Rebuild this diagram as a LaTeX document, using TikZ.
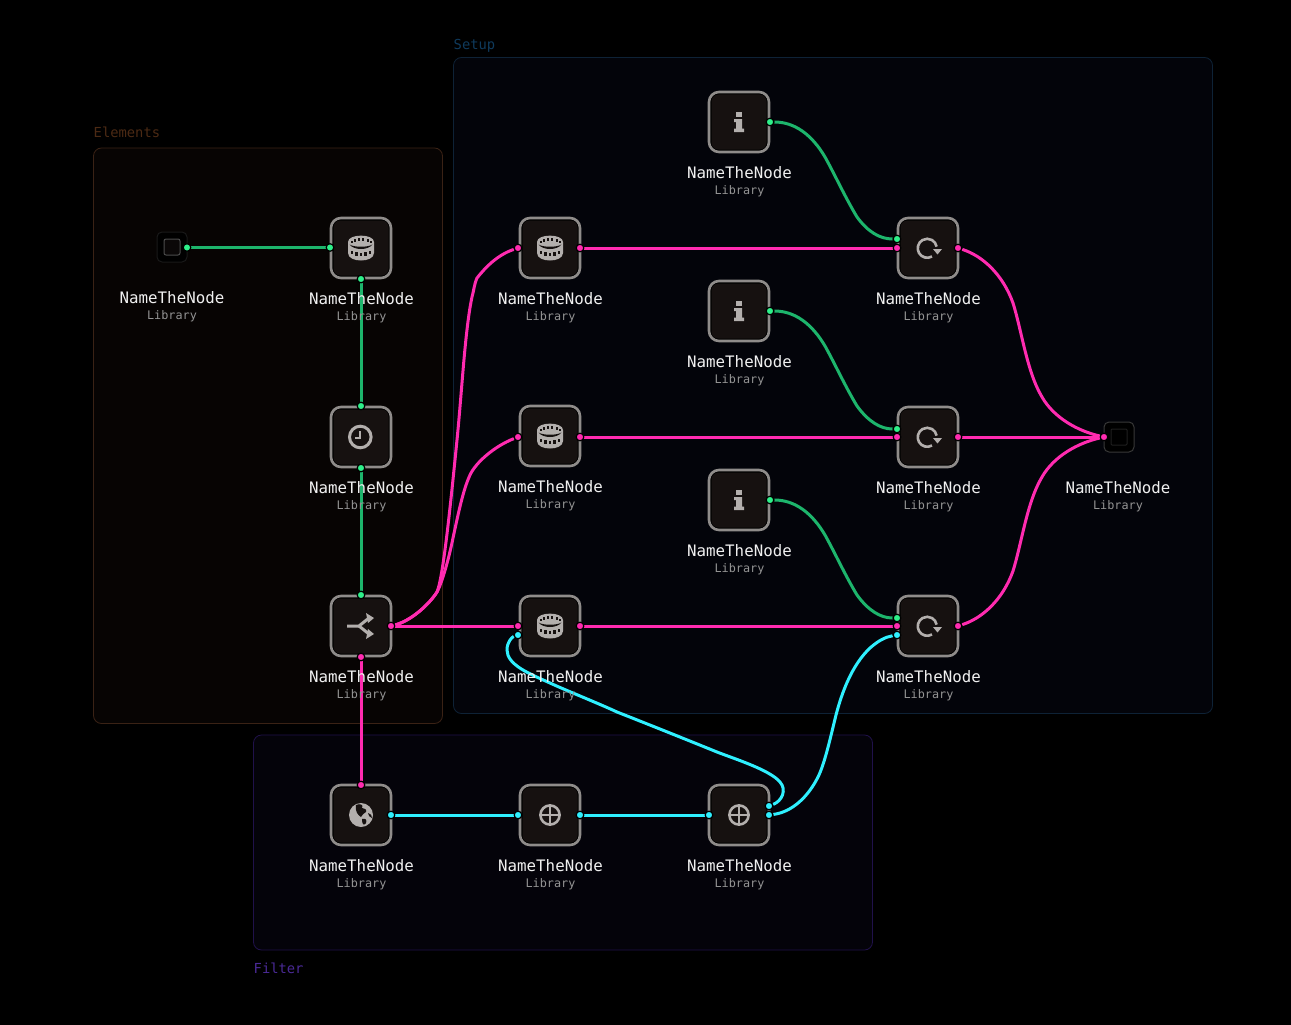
\documentclass[tikz,border=0pt]{standalone}
\usepackage{fontspec}
\setmainfont{DejaVu Sans Mono}
\definecolor{lgreen}{HTML}{1DB56C}\definecolor{pgreen}{HTML}{2EF08A}
\definecolor{lpink}{HTML}{FF2BB0}\definecolor{lcyan}{HTML}{2FF0FF}
\definecolor{icongray}{HTML}{B3AFAD}\definecolor{boxfill}{HTML}{161110}
\definecolor{elbd}{HTML}{3A2215}\definecolor{elfill}{HTML}{070403}\definecolor{eltext}{HTML}{4C2A14}
\definecolor{sebd}{HTML}{0E2236}\definecolor{sefill}{HTML}{03040A}\definecolor{setext}{HTML}{0F3A5C}
\definecolor{fibd}{HTML}{20114A}\definecolor{fifill}{HTML}{04030A}\definecolor{fitext}{HTML}{4A2A96}
\pgfdeclarelayer{grp}\pgfdeclarelayer{conn}\pgfsetlayers{grp,conn,main}
\tikzset{
 x=1pt,y=-1pt,
 group/.style={draw=#1,line width=0.8pt,rounded corners=8pt},
 grouplabel/.style={font=\fontsize{13.8}{14}\selectfont,text=#1,anchor=west,inner sep=0pt},
 box/.style={draw=icongray!80!black,fill=black,line width=2.6pt,rounded corners=10pt,minimum size=60pt,inner sep=0pt},
 boxin/.style={fill=boxfill,rounded corners=7pt,minimum size=55pt,inner sep=0pt},
 namelabel/.style={font=\fontsize{15.8}{16}\selectfont,text=white!94!black,inner sep=0pt},
 liblabel/.style={font=\fontsize{11.8}{12}\selectfont,text=white!58!black,inner sep=0pt},
 port/.style={circle,draw=black,line width=1.2pt,minimum size=7.6pt,inner sep=0pt,fill=#1},
 gport/.style={port=pgreen},pport/.style={port=lpink},cport/.style={port=lcyan},
 gline/.style={draw=lgreen,line width=3pt},
 pline/.style={draw=lpink,line width=3pt},
 cline/.style={draw=lcyan,line width=3pt},
 clock/.pic={\draw[icongray,line width=3pt] (-0.7,0) circle (10.8pt);
   \draw[icongray,line width=2.2pt] (-0.7,-6)--(-0.7,1)--(-6,1);},
 merge/.pic={\draw[icongray,line width=3pt,line join=round] (-14,0)--(-2,0)--(8,-8);
   \draw[icongray,line width=3pt,line join=round] (-2,0)--(8,8);
   \fill[icongray] (5,-13)--(13,-8)--(7,-3)--cycle;
   \fill[icongray] (5,13)--(13,8)--(7,3)--cycle;},
 plus/.pic={\draw[icongray,line width=2.6pt] (0,0) circle (9.6pt);
   \draw[icongray,line width=2.4pt] (-9.6,0)--(9.6,0) (0,-9.6)--(0,9.6);},
 reload/.pic={\draw[icongray,line width=2.6pt] (4,8.5) arc[start angle=-60,end angle=-350,radius=9.5pt];
   \fill[icongray] (5,1)--(14,1)--(9.5,6.5)--cycle;},
 info/.pic={\fill[icongray] (-3,-10) rectangle (3,-5);
   \fill[icongray] (-5,-3)--(3,-3)--(3,6.5)--(5,6.5)--(5,10)--(-5,10)--(-5,6.5)--(-3,6.5)--(-3,0)--(-5,0)--cycle;},
 globe/.pic={\fill[icongray] (0,0) circle (12pt);
   \fill[boxfill] (-5,-10)..controls (-1,-12) and (3,-10)..(1,-7)..controls (4,-6) and (6,-6)..(5,-3)..controls (3,-1) and (1,-1)..(0,2)..controls (-3,0) and (-6,-3)..(-5,-10)--cycle;
   \fill[boxfill] (1,4)..controls (5,3) and (6,5)..(5,8)..controls (3,11) and (1,10)..(1,4)--cycle;
   \fill[boxfill] (7,-2)..controls (10,-2) and (11,1)..(11,3)..controls (9,2) and (7,1)..(7,-2)--cycle;},
 colosseum/.pic={
   \fill[icongray] (-13,-6)..controls (-13,-14.5) and (13,-14.5)..(13,-6)--(13,5)..controls (13,15) and (-13,15)..(-13,5)--cycle;
   \fill[boxfill] (-11.5,-3.5)..controls (-7,2.5) and (7,2.5)..(11.5,-3.5)..controls (7,-0.5) and (-7,-0.5)..(-11.5,-3.5)--cycle;
   \foreach \wx/\wy in {-9.5/-6,-6.5/-7.6,-2.4/-8.4,2.4/-8.4,6.5/-7.6,9.5/-6}{\fill[boxfill] (\wx-1,\wy-1.3) rectangle (\wx+1,\wy+1.3);}
   \foreach \wx/\wy in {-9/4,-4.5/5.6,0/6.2,4.5/5.6,9/4}{\fill[boxfill] (\wx-1.1,\wy-1.5) rectangle (\wx+1.1,\wy+2.2);}
 },
}
\newcommand{\nodeblock}[4]{%
 \node[box] (#1) at (#2,#3) {};
 \node[boxin] (#1-in) at (#2,#3) {};
 \pic at (#2,#3) {#4};
 \node[namelabel,yshift=-51pt,xshift=0.5pt] (#1-name) at (#1.center) {NameTheNode};
 \node[liblabel,yshift=-69pt,xshift=0.5pt] (#1-lib) at (#1.center) {Library};
}
\begin{document}
\begin{tikzpicture}
\useasboundingbox (0,0) rectangle (1291,1025);
\begin{pgfonlayer}{grp}
 \fill[black] (0,0) rectangle (1291,1025);
 \draw[group=elbd,fill=elfill] (93.5,148) rectangle (442.5,723.5);
 \draw[group=sebd,fill=sefill] (453.5,57.5) rectangle (1212.5,713.5);
 \draw[group=fibd,fill=fifill] (253.5,735) rectangle (872.5,950);
\end{pgfonlayer}
\node[grouplabel=eltext] (gEl) at (93.5,132.5) {Elements};
\node[grouplabel=setext] (gSe) at (453.5,45.5) {Setup};
\node[grouplabel=fitext] (gFi) at (253.5,968) {Filter};
% source and sink
\node[draw=white!10!black,fill=black!100,rounded corners=5pt,line width=1pt,minimum size=30pt,inner sep=0pt] (src) at (172,247) {};
\node[draw=white!30!black,fill=boxfill!50!black,rounded corners=2pt,line width=1pt,minimum size=16pt,inner sep=0pt] (srcin) at (172,247) {};
\node[namelabel] (src-name) at (172,298) {NameTheNode};
\node[liblabel] (src-lib) at (172,316) {Library};
\node[draw=white!22!black,fill=black,rounded corners=5pt,line width=1pt,minimum size=30pt,inner sep=0pt] (snk) at (1119,437) {};
\node[draw=white!12!black,fill=black,rounded corners=1pt,line width=1pt,minimum size=16pt,inner sep=0pt] (snkin) at (1119,437) {};
\node[namelabel] (snk-name) at (1118,488) {NameTheNode};
\node[liblabel] (snk-lib) at (1118,506) {Library};
% nodes
\nodeblock{col1}{361}{248}{colosseum}
\nodeblock{clk}{361}{437}{clock}
\nodeblock{mrg}{361}{626}{merge}
\nodeblock{glb}{361}{815}{globe}
\nodeblock{s1}{550}{248}{colosseum}
\nodeblock{s2}{550}{436}{colosseum}
\nodeblock{s3}{550}{626}{colosseum}
\nodeblock{pl1}{550}{815}{plus}
\nodeblock{i1}{739}{122}{info}
\nodeblock{i2}{739}{311}{info}
\nodeblock{i3}{739}{500}{info}
\nodeblock{pl2}{739}{815}{plus}
\nodeblock{r1}{928}{248}{reload}
\nodeblock{r2}{928}{437}{reload}
\nodeblock{r3}{928}{626}{reload}
% ports
\node[gport] (a1) at (187,247.5) {};
\node[gport] (a2) at (330,247.5) {};
\node[gport] (a3) at (361,279) {};
\node[gport] (a4) at (361,406) {};
\node[gport] (a5) at (361,468) {};
\node[gport] (a6) at (361,595) {};
\node[pport] (m1) at (391,626) {};
\node[pport] (m2) at (361,657) {};
\node[pport] (g0) at (361,785) {};
\node[cport] (g1) at (391,815) {};
\node[cport] (p1) at (518,815) {};
\node[cport] (p2) at (580,815) {};
\node[cport] (p3) at (709,815) {};
\node[cport] (p4) at (769,806) {};
\node[cport] (p5) at (769,815) {};
\node[pport] (b1) at (518,248) {};
\node[pport] (b2) at (580,248) {};
\node[pport] (c1) at (518,437) {};
\node[pport] (c2) at (580,437) {};
\node[pport] (d1) at (518,626) {};
\node[cport] (d3) at (518,635) {};
\node[pport] (d2) at (580,626) {};
\node[gport] (i1o) at (770,122) {};
\node[gport] (i2o) at (770,311) {};
\node[gport] (i3o) at (770,500) {};
\node[gport] (r1g) at (897,239) {};
\node[pport] (r1p) at (897,248) {};
\node[pport] (r1o) at (958,248) {};
\node[gport] (r2g) at (897,429) {};
\node[pport] (r2p) at (897,437) {};
\node[pport] (r2o) at (958,437) {};
\node[gport] (r3g) at (897,618) {};
\node[pport] (r3p) at (897,626) {};
\node[cport] (r3c) at (897,635) {};
\node[pport] (r3o) at (958,626) {};
\node[pport] (k) at (1104,437) {};
% connectors
\begin{pgfonlayer}{conn}
 \draw[gline] (a1)--(a2);
 \draw[gline] (a3)--(a4);
 \draw[gline] (a5)--(a6);
 \draw[pline] (m2)--(g0);
 \draw[cline] (g1)--(p1);
 \draw[cline] (p2)--(p3);
 \draw[pline] (m1)--(d1);
 \draw[pline] (b2)--(r1p);
 \draw[pline] (c2)--(r2p);
 \draw[pline] (d2)--(r3p);
 \draw[pline] (r2o)--(k);
 \draw[gline] (i1o) .. controls (795,122) and (812,135) .. (825,157) .. controls (835,175) and (845,197) .. (857,217) .. controls (868,232) and (880,239) .. (r1g);
 \draw[gline] (i2o) .. controls (795,311) and (812,324) .. (825,346) .. controls (835,364) and (845,386) .. (857,406) .. controls (868,421) and (880,429) .. (r2g);
 \draw[gline] (i3o) .. controls (795,500) and (812,513) .. (825,535) .. controls (835,553) and (845,575) .. (857,595) .. controls (868,610) and (880,618) .. (r3g);
 \draw[pline] (r1o) .. controls (983,256) and (1003,275) .. (1013,303) .. controls (1022,332) and (1027,372) .. (1042,397) .. controls (1054,418) and (1078,431) .. (k);
 \draw[pline] (r3o) .. controls (983,618) and (1003,599) .. (1013,571) .. controls (1022,542) and (1027,502) .. (1042,477) .. controls (1054,456) and (1078,443) .. (k);
 \draw[cline] (p5) .. controls (792,812) and (808,797) .. (818,777) .. controls (825,763) and (831,735) .. (836,715) .. controls (842,692) and (852,665) .. (870,648) .. controls (878,641) and (885,637) .. (r3c);
 \draw[pline] (m1) .. controls (410,621) and (428,606) .. (437,592) .. controls (443,578) and (450,510) .. (457,440) .. controls (462,390) and (465,330) .. (472,297) .. controls (474,290) and (474,285) .. (477,278) .. controls (485,268) and (497,255) .. (b1);
 \draw[pline] (m1) .. controls (410,621) and (428,606) .. (437,592) .. controls (442,583) and (449,558) .. (453,538) .. controls (458,515) and (463,490) .. (470,475) .. controls (476,462) and (495,446) .. (c1);
 \draw[cline] (p4) .. controls (782,801) and (787,790) .. (780,782) .. controls (770,770) and (735,759) .. (717,752) .. controls (690,741) and (640,721) .. (617,712) .. controls (600,704) and (565,690) .. (550,683) .. controls (530,674) and (507,665) .. (507,650) .. controls (507,642) and (512,637) .. (d3);
\end{pgfonlayer}
\end{tikzpicture}
\end{document}
